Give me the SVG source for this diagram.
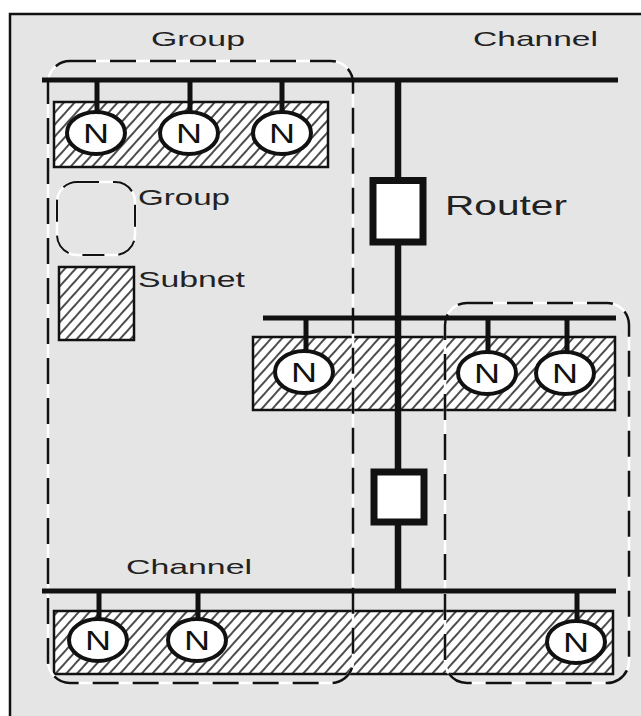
<svg xmlns="http://www.w3.org/2000/svg" width="641" height="716" viewBox="0 0 641 716">
<defs>
<pattern id="hatch" patternUnits="userSpaceOnUse" width="8" height="8" patternTransform="rotate(42)">
<rect width="8" height="8" fill="#ffffff"/>
<line x1="4" y1="0" x2="4" y2="8" stroke="#111" stroke-width="1.5"/>
</pattern>
</defs>
<style>
.lbl{font-family:"Liberation Sans",Arial,sans-serif;fill:#222}
.n{font-family:"Liberation Sans",Arial,sans-serif;font-size:27px;fill:#111;text-anchor:middle}
.subnet{fill:url(#hatch);stroke:#111;stroke-width:2.5}
.grpw{fill:none;stroke:#fff;stroke-width:2.5}
.grp{fill:none;stroke:#111;stroke-width:2.5;stroke-dasharray:26 14}
.chan{stroke:#111;stroke-width:5;fill:none}
.stem{stroke:#111;stroke-width:5}
.node{fill:#fff;stroke:#111;stroke-width:4}
.router{fill:#fff;stroke:#111;stroke-width:7}
</style>
<rect x="0" y="0" width="641" height="716" fill="#fff"/>
<g id="frame"><rect x="10" y="14" width="650" height="720" fill="#e5e5e5" stroke="#111" stroke-width="2.5"/></g>

<g id="subnet-top"><rect class="subnet" x="54" y="102" width="274" height="65"/></g>
<g id="subnet-middle"><rect class="subnet" x="253" y="337" width="362" height="73"/></g>
<g id="subnet-bottom"><rect class="subnet" x="54" y="611" width="559" height="63"/></g>

<g id="group-left">
<rect class="grpw" x="48" y="61" width="305" height="622" rx="22"/>
<rect class="grp" x="48" y="61" width="305" height="622" rx="22"/>
</g>
<g id="group-right">
<rect class="grpw" x="445" y="303" width="184" height="380" rx="22"/>
<rect class="grp" x="445" y="303" width="184" height="380" rx="22"/>
</g>

<g id="connectors">
<line class="chan" x1="42" y1="80" x2="618" y2="80"/>
<line class="chan" x1="263" y1="318" x2="616" y2="318"/>
<line class="chan" x1="42" y1="591" x2="616" y2="591"/>
<line x1="398" y1="80" x2="398" y2="591" stroke="#111" stroke-width="6.5"/>
<line class="stem" x1="97" y1="80" x2="97" y2="113"/>
<line class="stem" x1="190" y1="80" x2="190" y2="113"/>
<line class="stem" x1="282" y1="80" x2="282" y2="113"/>
<line class="stem" x1="306" y1="318" x2="306" y2="351"/>
<line class="stem" x1="488" y1="318" x2="488" y2="353"/>
<line class="stem" x1="567" y1="318" x2="567" y2="353"/>
<line class="stem" x1="99" y1="591" x2="99" y2="620"/>
<line class="stem" x1="198" y1="591" x2="198" y2="620"/>
<line class="stem" x1="577" y1="591" x2="577" y2="622"/>
</g>

<g id="router-1"><rect class="router" x="373" y="180.5" width="50" height="61.5"/></g>
<g id="router-2"><rect class="router" x="374" y="472" width="50" height="50"/></g>

<g id="node-1"><ellipse class="node" cx="96" cy="133" rx="29" ry="21"/><text class="n" x="96" y="143" textLength="26" lengthAdjust="spacingAndGlyphs">N</text></g>
<g id="node-2"><ellipse class="node" cx="189" cy="133" rx="29" ry="21"/><text class="n" x="189" y="143" textLength="26" lengthAdjust="spacingAndGlyphs">N</text></g>
<g id="node-3"><ellipse class="node" cx="282" cy="133" rx="29" ry="21"/><text class="n" x="282" y="143" textLength="26" lengthAdjust="spacingAndGlyphs">N</text></g>
<g id="node-4"><ellipse class="node" cx="304" cy="372" rx="29" ry="21"/><text class="n" x="304" y="382" textLength="26" lengthAdjust="spacingAndGlyphs">N</text></g>
<g id="node-5"><ellipse class="node" cx="487" cy="373" rx="29" ry="21"/><text class="n" x="487" y="383" textLength="26" lengthAdjust="spacingAndGlyphs">N</text></g>
<g id="node-6"><ellipse class="node" cx="565" cy="373" rx="29" ry="21"/><text class="n" x="565" y="383" textLength="26" lengthAdjust="spacingAndGlyphs">N</text></g>
<g id="node-7"><ellipse class="node" cx="98" cy="640" rx="29" ry="21"/><text class="n" x="98" y="650" textLength="26" lengthAdjust="spacingAndGlyphs">N</text></g>
<g id="node-8"><ellipse class="node" cx="197" cy="640" rx="29" ry="21"/><text class="n" x="197" y="650" textLength="26" lengthAdjust="spacingAndGlyphs">N</text></g>
<g id="node-9"><ellipse class="node" cx="576" cy="642" rx="29" ry="21"/><text class="n" x="576" y="652" textLength="26" lengthAdjust="spacingAndGlyphs">N</text></g>

<g id="legend-group">
<rect class="grpw" x="57" y="182" width="78" height="73" rx="20"/>
<rect x="57" y="182" width="78" height="73" rx="20" fill="none" stroke="#111" stroke-width="2" stroke-dasharray="22 14"/>
<text class="lbl" x="138" y="205" font-size="22" textLength="92" lengthAdjust="spacingAndGlyphs">Group</text>
</g>
<g id="legend-subnet">
<rect class="subnet" x="59" y="267" width="75" height="73"/>
<text class="lbl" x="138" y="287" font-size="22" textLength="107" lengthAdjust="spacingAndGlyphs">Subnet</text>
</g>

<g id="labels">
<text class="lbl" x="151" y="46" font-size="21" textLength="94" lengthAdjust="spacingAndGlyphs">Group</text>
<text class="lbl" x="473" y="46" font-size="21" textLength="125" lengthAdjust="spacingAndGlyphs">Channel</text>
<text class="lbl" x="126" y="574" font-size="21" textLength="126" lengthAdjust="spacingAndGlyphs">Channel</text>
<text class="lbl" x="445" y="215" font-size="28" textLength="122" lengthAdjust="spacingAndGlyphs">Router</text>
</g>
</svg>
